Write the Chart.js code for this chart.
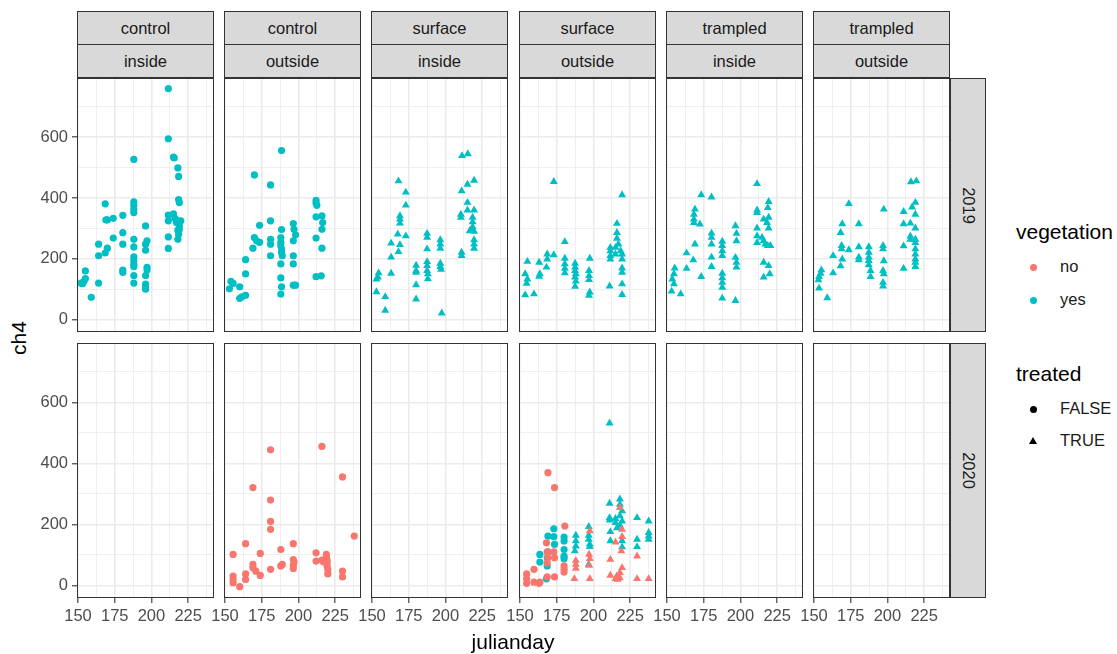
<!DOCTYPE html>
<html lang="en">
<head>
<meta charset="UTF-8">
<title>ch4 by julianday</title>
<script src="https://cdn.jsdelivr.net/npm/chart.js"></script>
<style>
  body { margin: 0; background: #fff; font-family: "Liberation Sans", Arial, sans-serif; }
  #fig { position: relative; width: 1117px; height: 654px; overflow: hidden; }
  #fig canvas { position: absolute; }
  .strip { position: absolute; box-sizing: border-box; background: #d9d9d9; border: 1px solid #333;
           color: #1a1a1a; font-size: 16.5px; display: flex; align-items: center; justify-content: center; }
  .vstrip span { transform: rotate(90deg); white-space: nowrap; }
  .txt { position: absolute; white-space: nowrap; line-height: 1; }
  .key { position: absolute; }
</style>
</head>
<body>
<div id="fig"></div>

<script>
  // facet labels
  const sites = ["control", "control", "surface", "surface", "trampled", "trampled"];
  const sides = ["inside", "outside", "inside", "outside", "inside", "outside"];
  const years = ["2019", "2020"];

  // axes
  const xTicks = [150, 175, 200, 225];
  const xGrid = [150, 162.5, 175, 187.5, 200, 212.5, 225, 237.5];
  const yTicks = [0, 200, 400, 600];
  const yGrid = [0, 100, 200, 300, 400, 500, 600, 700];
  const xRange = [149.3, 242.6];
  const yRange = [-41, 795];

  const vegColors = { no: "#F8766D", yes: "#00BFC4" };

  // 2019 (all vegetation = yes)
  const ctrlIn2019 = [[152,120],[153,118],[154,125],[155,135],[155,160],[159,73],[164,248],[164,210],[164,120],
    [168.5,381],[169,328],[170,328],[168.5,219],[170,235],[174,333],[174,268],[180.5,343],[180.5,286],[180.5,248],
    [180.5,163],[180.5,155],[188,527],[188,387],[188,376],[188,363],[188,352],[188,264],[188,239],[188,206],
    [188,193],[188,182],[188,174],[188,145],[188,120],[196,308],[197,259],[196,248],[196,228],[197,172],[197,163],
    [196,145],[196,117],[196,110],[196,100],[211.5,760],[211.5,595],[211.5,344],[211.5,325],[211.5,272],[211.5,234],
    [215,535],[215.5,532],[218,499],[218.5,471],[218.5,395],[219,385],[215,348],[216,333],[217,319],[218,325],
    [219,308],[220,325],[218,294],[219,297],[218.5,281],[218,264]];

  const ctrlOut2019 = [[188.5,556],[170,476],[181,443],[212,392],[212,383],[212.5,376],[212,338],[216,341],
    [216.5,319],[216,297],[212,268],[216,235],[212,141],[215.5,144],[181,325],[173.5,310],[188.5,296],[196.5,316],
    [197,297],[198,279],[196.5,259],[170,270],[171.5,259],[173.5,254],[169,235],[181,264],[181,248],[181,210],
    [188,270],[188,254],[188,243],[188.5,232],[188.5,221],[189,210],[196.5,210],[196.5,183],[188,183],[164,197],
    [164,150],[188,137],[188.5,108],[188,84],[196.5,113],[198,113],[154,126],[155.5,119],[153,101],[160,108],
    [160,70],[161.5,75],[164,80]];

  const surfIn2019 = [[211.3,539],[215.2,545],[168,456],[173,419],[173,376],[169,341],[169,330],[169,317],
    [167.5,281],[173,275],[163,251],[169,246],[168,223],[163,205],[163,152],[154.5,153],[154,139],[153,133],
    [153,91],[159,75],[159,30],[180,178],[180,161],[180,155],[180,114],[180,67],[187.5,283],[187.5,270],
    [187.5,232],[187.5,190],[187.5,177],[187.5,161],[188,150],[188,134],[196.5,262],[196.5,248],[196.5,234],
    [196.5,185],[196.5,174],[197,165],[197.5,21],[211,423],[215,445],[219.5,458],[215,385],[215,360],[210.5,346],
    [210.5,336],[219.5,360],[218.5,336],[218.5,321],[218.5,305],[218.5,294],[216.5,292],[219.5,290],[219.5,262],
    [219.5,248],[219.5,234],[211,221],[211,210]];

  const surfOut2019 = [[173,454],[219.5,410],[216,316],[216,286],[216,267],[180.5,256],[155,191],[153.5,150],
    [155,133],[154.5,119],[153.5,81],[159.5,84],[163,188],[163.5,150],[163,142],[168.5,215],[168.5,199],[168,172],
    [173,213],[180.5,201],[180.5,183],[180.5,168],[180.5,153],[187.5,185],[187.5,172],[187.5,161],[188,150],
    [187.5,139],[188,126],[187.5,109],[197.5,201],[197,161],[197,144],[197,131],[197.5,90],[197,79],[211.5,237],
    [211.5,226],[211.5,210],[211.5,199],[215,237],[215,215],[217,248],[218.5,226],[219.5,215],[219.5,199],
    [219.5,169],[219.5,155],[219.5,117],[219.5,82],[211,110]];

  const tramIn2019 = [[211.3,447],[173.3,410],[180.3,403],[219.2,388],[218.6,368],[169,363],[168.3,346],
    [168.3,330],[168.3,319],[172.4,314],[211.3,360],[211.3,352],[215.8,330],[219.2,336],[218.1,319],[219.2,301],
    [211.3,301],[211.3,275],[211.3,253],[214.7,270],[215.8,259],[217,248],[218.6,243],[220.4,243],[180.3,284],
    [180.3,270],[180.3,248],[187.6,257],[187.6,243],[187.6,226],[187.6,210],[196.6,308],[197.3,283],[197.3,259],
    [169,248],[163.3,219],[167.9,196],[163.3,168],[180.3,205],[180.3,174],[196.6,204],[197.3,188],[197.3,172],
    [155.2,169],[154.7,150],[153.6,133],[154.7,117],[153.1,93],[159.3,84],[173.3,141],[187.6,152],[187.6,137],
    [187.6,122],[187.6,106],[187.6,70],[196.6,62],[215.8,188],[219.2,177],[215.8,139],[219.9,150]];

  const tramOut2019 = [[216,453],[219.7,456],[173.7,381],[197.5,363],[219,385],[216.8,370],[219,346],[211,355],
    [211,315],[215.6,317],[219,301],[169.2,315],[168.1,286],[180.5,315],[215.6,274],[215.6,264],[219,264],
    [219,253],[211,242],[219,232],[219,215],[219,199],[219,188],[219,174],[211,168],[168.8,243],[168.8,232],
    [173.7,229],[180.5,239],[187.3,239],[197,243],[197,232],[163,210],[169.2,199],[168.1,176],[163,153],
    [180.5,205],[180.5,196],[187.3,221],[187.3,205],[187.3,194],[187.3,180],[188.5,161],[188.5,141],[197.5,193],
    [197,161],[197.5,150],[197,122],[197,110],[155,163],[154.5,152],[153.4,141],[153,130],[153.4,103],[159,71]];

  // 2020
  const ctrlOut2020No = [[181,445],[216,456],[230,356],[169,321],[181,280],[181,210],[181,184],[238,162],
    [155.5,102],[164,137],[174,105],[188,118],[196.5,137],[169,69],[169,58],[171,47],[164,38],[164,20],
    [155.5,31],[155.5,20],[155.5,9],[160,-4],[174,33],[181,53],[188,64],[189,69],[196.5,85],[197,77],[196.5,66],
    [196.5,56],[212,107],[212,80],[219,102],[219,94],[219.5,83],[219.5,74],[219.5,64],[220,53],[220,38],[216,83],
    [217,78],[230,47],[230,28]];

  const surfOut2020NoF = [[169,370],[173.5,321],[180.5,195],[154.5,38],[154.5,22],[154.5,7],[159.5,53],
    [159.5,11],[163.5,11],[163,7],[168,140],[168.5,110],[169,91],[168.5,74],[173,110],[173.5,91],[180,64],
    [180,53],[180,44],[168.5,28],[173.5,28]];
  const surfOut2020YesF = [[173,186],[169,162],[173,160],[169,110],[173.5,135],[163.5,102],[163.5,77],
    [168.5,91],[168.5,64],[180,159],[180,146],[180,118],[180,96],[180,88],[168,22]];
  const surfOut2020NoT = [[197.5,179],[188,82],[188,69],[188,56],[187,22],[197,102],[197.5,88],[197,66],
    [197.5,22],[211.5,85],[211.5,33],[215,22],[216,31],[218,42],[219.5,58],[216.5,20],[218,25],[215,142],
    [219.5,160],[219,113],[218,255],[219.5,184],[229.7,96],[229.7,22],[237.6,22]];
  const surfOut2020YesT = [[211,532],[211,269],[211,222],[211,214],[211.5,176],[211.5,146],[215,219],[215,206],
    [216,189],[218,283],[218,266],[219.5,244],[218,228],[219.5,211],[218,197],[219.5,146],[219.5,126],[188,164],
    [188,146],[188,129],[187.3,113],[196.8,193],[196.8,164],[196.8,151],[197.5,135],[197.5,127],[196.8,69],
    [229.7,222],[229.7,151],[229.7,127],[237.6,211],[237.6,173],[237.6,162],[237.6,151]];

  const panels = [
    { row: 0, col: 0, series: [{ pts: ctrlIn2019, veg: "yes", treated: false }] },
    { row: 0, col: 1, series: [{ pts: ctrlOut2019, veg: "yes", treated: false }] },
    { row: 0, col: 2, series: [{ pts: surfIn2019, veg: "yes", treated: true }] },
    { row: 0, col: 3, series: [{ pts: surfOut2019, veg: "yes", treated: true }] },
    { row: 0, col: 4, series: [{ pts: tramIn2019, veg: "yes", treated: true }] },
    { row: 0, col: 5, series: [{ pts: tramOut2019, veg: "yes", treated: true }] },
    { row: 1, col: 0, series: [] },
    { row: 1, col: 1, series: [{ pts: ctrlOut2020No, veg: "no", treated: false }] },
    { row: 1, col: 2, series: [] },
    { row: 1, col: 3, series: [
      { pts: surfOut2020NoF, veg: "no", treated: false },
      { pts: surfOut2020YesF, veg: "yes", treated: false },
      { pts: surfOut2020NoT, veg: "no", treated: true },
      { pts: surfOut2020YesT, veg: "yes", treated: true }] },
    { row: 1, col: 4, series: [] },
    { row: 1, col: 5, series: [] }
  ];

  // layout (px)
  const FONT = '"Liberation Sans", Arial, sans-serif';
  const panelLeft = [77, 224, 371, 519, 666, 813];
  const panelW = 137;
  const panelTop = [78, 343];
  const panelH = [254, 255];

  Chart.defaults.font.family = FONT;
  const fig = document.getElementById("fig");

  const panelBorder = {
    id: "panelBorder",
    afterDraw(chart) {
      const a = chart.chartArea, c = chart.ctx;
      c.save();
      c.strokeStyle = "#333333";
      c.lineWidth = 1;
      c.strokeRect(a.left + 0.5, a.top + 0.5, a.right - a.left - 1, a.bottom - a.top - 1);
      c.restore();
    }
  };

  function addText(txt, left, top, size, extra) {
    const d = document.createElement("div");
    d.className = "txt";
    d.textContent = txt;
    d.style.left = left + "px";
    d.style.top = top + "px";
    d.style.fontSize = size + "px";
    if (extra) Object.assign(d.style, extra);
    fig.appendChild(d);
    return d;
  }

  function makePanel(p) {
    const first = p.col === 0, bottom = p.row === 1;
    const padL = first ? 44 : (bottom ? 18 : 0);
    const padB = bottom ? 34 : 0;
    const w = panelW + padL, h = panelH[p.row] + padB;
    const cv = document.createElement("canvas");
    cv.width = w; cv.height = h;
    cv.style.width = w + "px"; cv.style.height = h + "px";
    cv.style.left = (panelLeft[p.col] - padL) + "px";
    cv.style.top = panelTop[p.row] + "px";
    fig.appendChild(cv);

    const isMajorX = v => xTicks.includes(v);
    const isMajorY = v => yTicks.includes(v);

    new Chart(cv, {
      type: "scatter",
      data: {
        datasets: p.series.map(s => ({
          data: s.pts.map(q => ({ x: q[0], y: q[1] })),
          backgroundColor: vegColors[s.veg],
          borderColor: vegColors[s.veg],
          borderWidth: 0,
          pointStyle: s.treated ? "triangle" : "circle",
          pointRadius: s.treated ? 4.6 : 3.6
        }))
      },
      options: {
        responsive: false,
        animation: false,
        events: [],
        layout: { padding: 0, autoPadding: false },
        plugins: { legend: { display: false }, tooltip: { enabled: false } },
        scales: {
          x: {
            type: "linear", min: xRange[0], max: xRange[1],
            afterBuildTicks: s => { s.ticks = xGrid.map(v => ({ value: v })); },
            afterFit: s => { s.height = padB; s.paddingLeft = 0; s.paddingRight = 0; },
            border: { display: false },
            grid: {
              color: "#EBEBEB",
              lineWidth: c => (c.tick && isMajorX(c.tick.value)) ? 1.6 : 0.8,
              drawTicks: bottom, tickLength: 5, tickWidth: 1.1,
              tickColor: c => (c.tick && isMajorX(c.tick.value)) ? "#333333" : "rgba(0,0,0,0)"
            },
            ticks: {
              display: bottom, autoSkip: false, maxRotation: 0, minRotation: 0, padding: 4,
              color: "#4D4D4D", font: { size: 16.5 },
              callback: v => isMajorX(v) ? String(v) : ""
            }
          },
          y: {
            type: "linear", min: yRange[0], max: yRange[1],
            afterBuildTicks: s => { s.ticks = yGrid.map(v => ({ value: v })); },
            afterFit: s => { s.width = padL; s.paddingTop = 0; s.paddingBottom = 0; },
            border: { display: false },
            grid: {
              color: "#EBEBEB",
              lineWidth: c => (c.tick && isMajorY(c.tick.value)) ? 1.6 : 0.8,
              drawTicks: first, tickLength: 5, tickWidth: 1.1,
              tickColor: c => (c.tick && isMajorY(c.tick.value)) ? "#333333" : "rgba(0,0,0,0)"
            },
            ticks: {
              display: first, autoSkip: false, padding: 4,
              color: "#4D4D4D", font: { size: 16.5 },
              callback: v => isMajorY(v) ? String(v) : ""
            }
          }
        }
      },
      plugins: [panelBorder]
    });
  }

  panels.forEach(makePanel);

  // top strips
  sites.forEach((s, i) => {
    const a = document.createElement("div");
    a.className = "strip";
    Object.assign(a.style, { left: panelLeft[i] + "px", top: "11px", width: panelW + "px", height: "34px" });
    a.textContent = s;
    fig.appendChild(a);
    const b = document.createElement("div");
    b.className = "strip";
    Object.assign(b.style, { left: panelLeft[i] + "px", top: "44px", width: panelW + "px", height: "34px" });
    b.textContent = sides[i];
    fig.appendChild(b);
  });

  // right strips
  years.forEach((y, r) => {
    const d = document.createElement("div");
    d.className = "strip vstrip";
    Object.assign(d.style, { left: (panelLeft[5] + panelW) + "px", top: panelTop[r] + "px", width: "36px", height: panelH[r] + "px" });
    const sp = document.createElement("span");
    sp.textContent = y;
    d.appendChild(sp);
    fig.appendChild(d);
  });

  // axis titles
  addText("julianday", 513, 631, 21, { transform: "translateX(-50%)", color: "#000" });
  addText("ch4", 18, 338, 21, { transform: "translate(-50%,-50%) rotate(-90deg)", color: "#000" });

  // legend
  addText("vegetation", 1016, 221, 21, { color: "#000" });
  addText("treated", 1016, 363, 21, { color: "#000" });
  const legRows = [
    { label: "no", y: 267, color: vegColors.no, shape: "circle" },
    { label: "yes", y: 300, color: vegColors.yes, shape: "circle" },
    { label: "FALSE", y: 409, color: "#000", shape: "circle" },
    { label: "TRUE", y: 441, color: "#000", shape: "triangle" }
  ];
  legRows.forEach(r => {
    const k = document.createElement("div");
    k.className = "key";
    if (r.shape === "circle") {
      Object.assign(k.style, { left: "1029.5px", top: (r.y - 3.5) + "px", width: "7px", height: "7px",
        borderRadius: "50%", background: r.color });
    } else {
      Object.assign(k.style, { left: "1029px", top: (r.y - 4) + "px", width: "0", height: "0",
        borderLeft: "4px solid transparent", borderRight: "4px solid transparent", borderBottom: "7px solid " + r.color });
    }
    fig.appendChild(k);
    addText(r.label, 1060, r.y - 9, 16.5, { color: "#1a1a1a" });
  });
</script>
</body>
</html>
